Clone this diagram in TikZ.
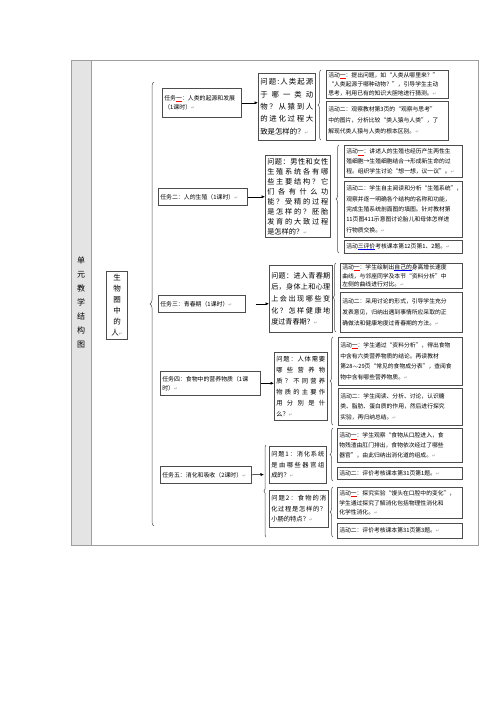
\documentclass[tikz,border=0pt]{standalone}
\usepackage{fontspec}
\setmainfont{Noto Sans CJK SC}
\newfontfamily\dvs{DejaVu Sans}
\usetikzlibrary{arrows.meta,decorations.pathreplacing}
\definecolor{bord}{HTML}{4D4D4D}
\definecolor{tline}{HTML}{9E9E9E}
\definecolor{colfill}{HTML}{E4E4E4}
\newcommand\rt{{\dvs\color{black!40}\fontsize{4.5}{4.5}\selectfont ↵}}
\newcommand\ulc[3]{\makebox[0pt][l]{\color{#1}\rule[-1.3pt]{#2em}{0.4pt}}#3}
\makeatletter
\def\J#1{\makebox[\hsize][s]{\J@#1\@nil}}
\def\J@#1#2\@nil{#1\ifx\relax#2\relax\else\hfill\J@#2\@nil\fi}
\makeatother
\newcommand\bx[7]{%
 \pgfmathsetmacro\bxw{#4-#2-4}%
 \pgfmathsetmacro\bxh{#5-#3}%
 \node[#6,anchor=north west,text width=\bxw pt,minimum height=\bxh pt] (#1) at (#2,#3) {#7};}
\tikzset{
 base/.style={draw=bord, line width=0.55pt, inner xsep=2pt, inner ysep=1pt, align=left, text=black},
 tbox/.style={base, font=\fontsize{5.9}{9}\selectfont},
 qbox/.style={base, font=\fontsize{7.2}{12.2}\selectfont},
 abox/.style={base, font=\fontsize{5.8}{9.8}\selectfont},
 arr/.style={draw=black, line width=0.5pt, -{Latex[length=3.5pt,width=3pt]}},
 brc/.style={draw=bord, line width=0.5pt, decorate, decoration={brace, amplitude=3pt}},
}
\begin{document}
\begin{tikzpicture}[x=1pt,y=-1pt]
\useasboundingbox (0,0) rectangle (500,707);
\fill[white] (0,0) rectangle (500,707);
% table
\fill[colfill] (71,60) rectangle (91,545);
\draw[tline, line width=0.8pt] (71,60) rectangle (478,545);
\draw[tline, line width=0.8pt] (91,60) -- (91,545);
\node[font=\fontsize{8}{14}\selectfont, align=center] (unit) at (81,302) {单\\元\\教\\学\\结\\构\\图};
\node[draw=bord, line width=0.55pt, font=\fontsize{7.5}{11}\selectfont, align=center, inner xsep=2pt, inner ysep=3pt, minimum width=21pt] (root) at (117,305) {生\\物\\圈\\中\\的\\人\rt};
\draw[brc, decoration={amplitude=4pt}] (154,526) -- (154,82);
% tasks
\bx{t1}{162}{88}{241}{117}{tbox}{任务\ulc{red}{1}{一}：人类的起源和发展\\（1课时）\rt}
\bx{t2}{158}{188}{247}{205}{tbox}{任务二：人的生殖（1课时）\rt}
\bx{t3}{158}{295}{245}{312}{tbox}{任务三：青春期（1课时）\rt}
\bx{t4}{160}{371}{260}{395}{tbox}{任务四：食物中的营养物质（1课\\时）\rt}
\bx{t5}{160}{466}{251}{483}{tbox}{任务五：消化和吸收（2课时）\rt}
% questions
\bx{q1}{258}{73}{315}{140}{qbox,font=\fontsize{7.4}{12.3}\selectfont}{\J{问题:人类起源}\\\J{于哪一类动}\\\J{物？从猿到人}\\\J{的进化过程大}\\致是怎样的？\rt}
\bx{q2}{265}{155}{330}{237}{qbox,font=\fontsize{7.2}{10}\selectfont}{\J{问题：男性和女性}\\\J{生殖系统各有哪}\\\J{些主要结构？它}\\\J{们各有什么功}\\\J{能？受精的过程}\\\J{是怎样的？胚胎}\\\J{发育的大致过程}\\是怎样的？\rt}
\bx{q3}{269}{265}{332}{332}{qbox,font=\fontsize{7.1}{11.7}\selectfont}{\J{问题：进入青春期}\\\J{后，身体上和心理}\\\J{上会出现哪些变}\\\J{化？怎样健康地}\\度过青春期？\rt}
\bx{q4}{274}{352}{327}{420}{qbox,font=\fontsize{6.3}{11}\selectfont}{\J{问题：人体需要}\\\J{哪些营养物}\\\J{质？不同营养}\\\J{物质的主要作}\\\J{用分别是什}\\么？\rt}
\bx{q51}{269}{446}{326}{483}{qbox,font=\fontsize{6.2}{10.5}\selectfont}{\J{问题1：消化系统}\\\J{是由哪些器官组}\\成的？\rt}
\bx{q52}{269}{490}{328}{527}{qbox,font=\fontsize{6.3}{10.5}\selectfont}{\J{问题2：食物的消}\\\J{化过程是怎样的？}\\小肠的特点？\rt}
% activities
\bx{a11}{326}{70}{448}{98}{abox,font=\fontsize{5.8}{9.2}\selectfont}{活动\ulc{red}{1}{一}：提出问题，如“人类从哪里来？”\\“人类起源于哪种动物？”，引导学生主动\\思考，利用已有的知识大胆地进行猜测。\rt}
\bx{a12}{326}{101}{448}{140}{abox,font=\fontsize{5.8}{11}\selectfont}{活动二：观察教材第3页的“观察与思考”\\中的图片，分析比较“类人猿与人类”，了\\解现代类人猿与人类的根本区别。\rt}
\bx{a21}{344}{145}{462}{177}{abox}{活动\ulc{red}{1}{一}：讲述人的生殖也经历产生两性生\\殖细胞→生殖细胞结合→形成新生命的过\\程。组织学生讨论“想一想，议一议”。\rt}
\bx{a22}{344}{181}{462}{237}{abox,font=\fontsize{5.8}{10.4}\selectfont}{活动二：学生自主阅读和分析“生殖系统”，\\观察并逐一明确各个结构的名称和功能，\\完成生殖系统剖面图的填图。针对教材第\\11页图411示意图讨论胎儿和母体怎样进\\行物质交换。\rt}
\bx{a23}{344}{240}{462}{253}{abox}{活动\ulc{blue}{3}{三评价}考核课本第12页第1、2题。\rt}
\bx{a31}{340}{263}{462}{288}{abox,font=\fontsize{5.8}{8.6}\selectfont}{活动\ulc{red}{1}{一}：学生绘制出\ulc{blue}{3}{自己的}身高增长速度\\曲线，与邻座同学及本节“资料分析”中\\左侧的曲线进行对比。\rt}
\bx{a32}{340}{292}{462}{332}{abox,font=\fontsize{5.8}{10.8}\selectfont}{活动二：采用讨论的形式，引导学生充分\\发表意见，归纳出遇到事情所应采取的正\\确做法和健康地度过青春期的方法。\rt}
\bx{a41}{338}{337}{462}{385}{abox,font=\fontsize{5.8}{10.6}\selectfont}{活动\ulc{red}{1}{一}：学生通过“资料分析”，得出食物\\中含有六类营养物质的结论。再读教材\\第28$\sim$29页“常见的食物成分表”，查阅食\\物中含有哪些营养物质。\rt}
\bx{a42}{338}{388}{462}{425}{abox,font=\fontsize{5.8}{10.6}\selectfont}{活动二：学生阅读、分析、讨论，认识糖\\类、脂肪、蛋白质的作用，然后进行探究\\实验，再归纳总结。\rt}
\bx{a51}{337}{428}{462}{462}{abox}{活动\ulc{red}{1}{一}：学生观察“食物从口腔进入，食\\物残渣由肛门排出，食物依次经过了哪些\\器官”，由此归纳出消化道的组成。\rt}
\bx{a52}{337}{467}{462}{479}{abox}{活动二：评价考核课本第31页第1题。\rt}
\bx{a53}{337}{487}{462}{518}{abox}{活动\ulc{red}{1}{一}：探究实验“馒头在口腔中的变化”，\\学生通过探究了解消化包括物理性消化和\\化学性消化。\rt}
\bx{a54}{337}{523}{462}{538}{abox}{活动二：评价考核课本第31页第3题。\rt}
% arrows
\draw[arr] (t1.east) -- (t1.east -| q1.west);
\draw[arr] (t2.east) -- (t2.east -| q2.west);
\draw[arr, shorten <=10pt] (t3.east) -- (t3.east -| q3.west);
\draw[arr] (t4.east) -- (t4.east -| q4.west);
\coordinate (k5) at (264,474.5);
\draw[arr] (t5.east) -- (k5);
% braces
\draw[brc] (321,140) -- (321,70);
\draw[brc] (339,253) -- (339,145);
\draw[brc] (336,332) -- (336,263);
\draw[brc] (333,425) -- (333,337);
\draw[brc] (333,481) -- (333,428);
\draw[brc] (333,537) -- (333,487);
\draw[brc, decoration={amplitude=2pt}] (266,537) -- (266,445);
\end{tikzpicture}
\end{document}
